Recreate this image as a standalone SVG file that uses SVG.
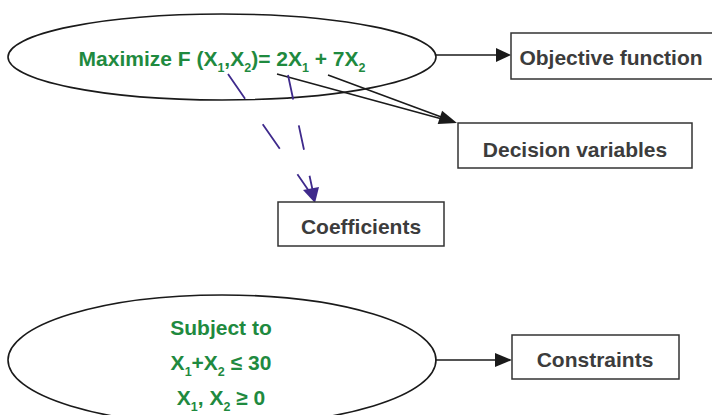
<svg xmlns="http://www.w3.org/2000/svg" width="712" height="415" viewBox="0 0 712 415">
<defs>
<style>
.ell{fill:#fff;stroke:#1a1a1a;stroke-width:1.6}
.box{fill:#fff;stroke:#333;stroke-width:1.5}
.g{font-family:"Liberation Sans",Arial,sans-serif;font-weight:bold;font-size:21px;fill:#1f8a3f}
.lbl{font-family:"Liberation Sans",Arial,sans-serif;font-weight:bold;font-size:21px;fill:#3c3c3c;text-anchor:middle}
.ln{stroke:#1a1a1a;stroke-width:1.6;fill:none}
.pl{stroke:#3f2a8c;stroke-width:1.8;fill:none}
.sub{font-size:12.5px}
</style>
</defs>
<rect width="712" height="415" fill="#fff"/>
<g id="objective-ellipse">
<ellipse class="ell" cx="222" cy="57" rx="214" ry="43"/>
</g>
<g id="constraints-ellipse">
<ellipse class="ell" cx="222" cy="360" rx="214" ry="65"/>
<text class="g" x="221" y="335" text-anchor="middle">Subject to</text>
<text class="g" x="221" y="370" text-anchor="middle">X<tspan class="sub" dy="6">1</tspan><tspan dy="-6">+X</tspan><tspan class="sub" dy="6">2</tspan><tspan dy="-6"> ≤ 30</tspan></text>
<text class="g" x="221" y="405" text-anchor="middle">X<tspan class="sub" dy="6">1</tspan><tspan dy="-6">, X</tspan><tspan class="sub" dy="6">2</tspan><tspan dy="-6"> ≥ 0</tspan></text>
</g>
<g id="connectors">
<line class="ln" x1="436" y1="55" x2="497" y2="55"/>
<polygon points="496,48 511,55 496,62" fill="#1a1a1a"/>
<line class="ln" x1="435" y1="360" x2="497" y2="360"/>
<polygon points="495,353 512,360 495,367" fill="#1a1a1a"/>
<line class="ln" x1="277" y1="74" x2="442" y2="119"/>
<line class="ln" x1="328" y1="75" x2="444" y2="118"/>
<polygon points="457,123 437.7,124.1 442.1,110.8" fill="#1a1a1a"/>
<line class="pl" x1="228" y1="74" x2="311" y2="194" stroke-dasharray="30 31"/>
<line class="pl" x1="288" y1="75" x2="313" y2="192" stroke-dasharray="25 26.5"/>
<polygon points="303,190 319,187 315,203" fill="#3f2a8c"/>
</g>
<g id="objective-text">
<text class="g" x="222" y="66" text-anchor="middle">Maximize F (X<tspan class="sub" dy="6">1</tspan><tspan dy="-6">,X</tspan><tspan class="sub" dy="6">2</tspan><tspan dy="-6">)= 2X</tspan><tspan class="sub" dy="6">1</tspan><tspan dy="-6"> + 7X</tspan><tspan class="sub" dy="6">2</tspan></text>
</g>
<g id="objective-function">
<rect class="box" x="511" y="33" width="203" height="46"/>
<text class="lbl" x="611" y="65">Objective function</text>
</g>
<g id="decision-variables">
<rect class="box" x="458" y="123" width="234" height="45"/>
<text class="lbl" x="575" y="157">Decision variables</text>
</g>
<g id="coefficients">
<rect class="box" x="278" y="202" width="166" height="44"/>
<text class="lbl" x="361" y="234">Coefficients</text>
</g>
<g id="constraints">
<rect class="box" x="512" y="335" width="167" height="44"/>
<text class="lbl" x="595" y="367">Constraints</text>
</g>
</svg>
